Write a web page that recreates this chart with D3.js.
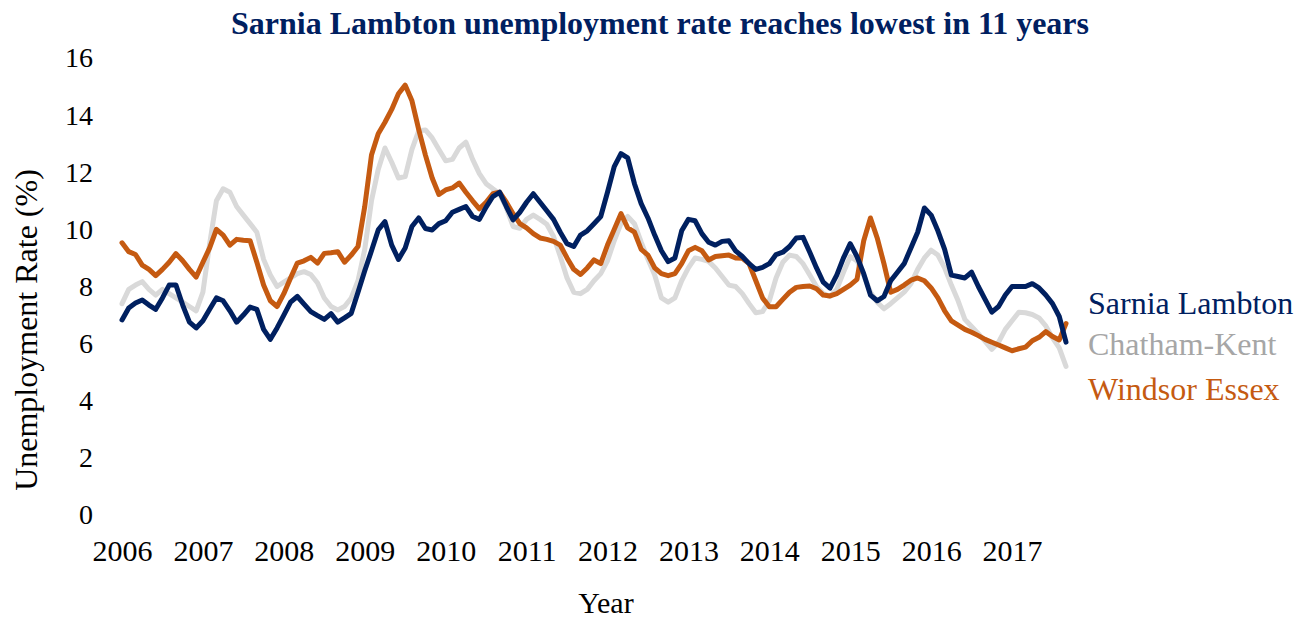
<!DOCTYPE html>
<html>
<head>
<meta charset="utf-8">
<script src="https://cdn.jsdelivr.net/npm/d3@7"></script>
<style>
  html, body { margin: 0; padding: 0; background: #ffffff; }
  svg { display: block; font-family: "Liberation Serif", "Times New Roman", serif; }
</style>
</head>
<body>
<svg id="chart" width="1304" height="620"></svg>
<script>
// ---- Data (monthly, Jan 2006 .. Sep 2017) ----
const startYear = 2006;
const yearLabels = ["2006","2007","2008","2009","2010","2011","2012","2013","2014","2015","2016","2017"];
const yTicks = [0, 2, 4, 6, 8, 10, 12, 14, 16];
const seriesNames = ["Sarnia Lambton", "Chatham-Kent", "Windsor Essex"];

const sarnia = [
  6.83,7.25,7.42,7.53,7.35,7.2,7.6,8.05,8.05,7.35,6.75,6.55,
  6.8,7.2,7.6,7.5,7.15,6.75,7.0,7.28,7.2,6.5,6.15,6.55,
  7.0,7.45,7.65,7.38,7.12,6.98,6.85,7.05,6.75,6.9,7.06,7.8,
  8.55,9.25,9.98,10.27,9.45,8.95,9.35,10.1,10.4,10.03,9.98,10.2,
  10.3,10.6,10.7,10.8,10.45,10.35,10.78,11.15,11.3,10.8,10.33,10.6,
  10.95,11.25,10.95,10.65,10.35,9.9,9.5,9.4,9.8,9.95,10.2,10.45,
  11.3,12.2,12.65,12.5,11.6,10.9,10.4,9.8,9.25,8.87,9.0,9.95,
  10.35,10.3,9.85,9.55,9.45,9.58,9.6,9.25,9.05,8.8,8.6,8.67,
  8.8,9.12,9.2,9.4,9.7,9.72,9.2,8.65,8.15,7.94,8.4,9.0,
  9.5,9.05,8.45,7.7,7.5,7.65,8.2,8.5,8.8,9.35,9.9,10.75,
  10.5,9.95,9.3,8.4,8.35,8.3,8.5,8.0,7.55,7.1,7.3,7.7,
  8.0,8.0,8.0,8.1,7.95,7.7,7.4,6.95,6.05
];
const chatham = [
  7.4,7.9,8.05,8.17,7.9,7.7,7.9,7.75,7.6,7.45,7.3,7.15,
  7.8,9.5,11.0,11.42,11.3,10.8,10.5,10.2,9.9,8.95,8.4,8.0,
  8.15,8.3,8.45,8.52,8.42,8.12,7.6,7.3,7.18,7.3,7.6,8.2,
  9.3,11.0,12.1,12.85,12.35,11.8,11.85,12.8,13.45,13.48,13.2,12.8,
  12.4,12.45,12.85,13.05,12.45,11.95,11.6,11.42,11.25,10.75,10.1,10.04,
  10.35,10.5,10.35,10.18,9.75,9.05,8.3,7.8,7.75,7.9,8.2,8.45,
  8.9,9.6,10.2,10.45,10.2,9.55,8.95,8.4,7.6,7.45,7.6,8.2,
  8.65,9.0,8.95,8.88,8.65,8.35,8.05,8.0,7.75,7.4,7.08,7.12,
  7.5,8.3,8.85,9.1,9.05,8.8,8.4,8.0,7.75,7.65,7.9,8.5,
  9.05,8.9,8.4,7.8,7.45,7.22,7.4,7.6,7.8,8.1,8.6,9.0,
  9.27,9.1,8.65,8.05,7.5,6.85,6.6,6.35,6.08,5.8,6.05,6.5,
  6.8,7.1,7.08,7.02,6.9,6.62,6.2,5.85,5.2
];
const windsor = [
  9.53,9.22,9.12,8.75,8.6,8.38,8.6,8.85,9.15,8.9,8.6,8.33,
  8.85,9.35,10.0,9.8,9.45,9.65,9.62,9.6,8.85,8.05,7.5,7.3,
  7.75,8.3,8.82,8.9,9.02,8.82,9.16,9.18,9.22,8.85,9.1,9.4,
  10.8,12.6,13.35,13.75,14.2,14.75,15.05,14.5,13.5,12.6,11.8,11.22,
  11.38,11.45,11.62,11.3,11.0,10.72,10.95,11.25,11.3,10.95,10.55,10.2,
  10.05,9.85,9.7,9.65,9.58,9.45,9.0,8.6,8.42,8.65,8.93,8.8,
  9.45,10.0,10.55,10.05,9.9,9.3,9.1,8.65,8.45,8.38,8.45,8.8,
  9.25,9.37,9.25,8.93,9.05,9.08,9.1,9.0,8.99,8.8,8.2,7.6,
  7.29,7.29,7.55,7.8,7.97,8.0,8.02,7.92,7.7,7.67,7.75,7.9,
  8.05,8.25,9.6,10.4,9.7,8.8,7.8,7.9,8.05,8.22,8.3,8.2,
  7.95,7.6,7.15,6.8,6.65,6.5,6.4,6.28,6.15,6.05,5.95,5.85,
  5.75,5.82,5.88,6.1,6.22,6.42,6.25,6.13,6.7
];
const seriesValues = [sarnia, chatham, windsor];
const seriesColors = ["#002060", "#D9D9D9", "#C55A11"];
const legendTextColors = ["#002060", "#A6A6A6", "#C55A11"];

// ---- Layout ----
const svg = d3.select("#chart");
const plot = { left: 122, right: 1066, top: 58, bottom: 515 };

const x = d3.scaleLinear().domain([0, sarnia.length - 1]).range([plot.left, plot.right]);
const y = d3.scaleLinear().domain([0, 16]).range([plot.bottom, plot.top]);

// Title
svg.append("text")
  .attr("x", 660).attr("y", 34)
  .attr("text-anchor", "middle")
  .attr("font-size", 32).attr("font-weight", "bold")
  .attr("fill", "#002060")
  .text("Sarnia Lambton unemployment rate reaches lowest in 11 years");

// Y axis
const yAxis = d3.axisLeft(y).tickValues(yTicks).tickSize(0).tickPadding(29).tickFormat(d3.format("d"));
const yg = svg.append("g").attr("transform", `translate(${plot.left},0)`).call(yAxis);
yg.select(".domain").remove();
yg.selectAll("text").attr("font-size", 28).attr("fill", "#000").attr("font-family", "Liberation Serif, serif");

// X axis
const xTickVals = yearLabels.map((d, i) => i * 12);
const xAxis = d3.axisBottom(x).tickValues(xTickVals).tickSize(0).tickPadding(25)
  .tickFormat((d, i) => yearLabels[i]);
const xg = svg.append("g").attr("transform", `translate(0,${plot.bottom})`).call(xAxis);
xg.select(".domain").remove();
xg.selectAll("text").attr("font-size", 30).attr("fill", "#000").attr("font-family", "Liberation Serif, serif");

// Axis titles
svg.append("text")
  .attr("transform", "translate(37,330) rotate(-90)")
  .attr("text-anchor", "middle")
  .attr("font-size", 32).attr("fill", "#000")
  .text("Unemployment Rate (%)");

svg.append("text")
  .attr("x", 606).attr("y", 613)
  .attr("text-anchor", "middle")
  .attr("font-size", 30).attr("fill", "#000")
  .text("Year");

// Lines (gray first, then orange, then navy on top)
const line = d3.line().x((d, i) => x(i)).y(d => y(d));
const drawOrder = [1, 2, 0];
drawOrder.forEach(k => {
  svg.append("path")
    .datum(seriesValues[k])
    .attr("fill", "none")
    .attr("stroke", seriesColors[k])
    .attr("stroke-width", 5)
    .attr("stroke-linejoin", "round")
    .attr("stroke-linecap", "round")
    .attr("d", line);
});

// Legend labels
const legendY = [314, 355, 400];
seriesNames.forEach((name, k) => {
  svg.append("text")
    .attr("x", 1088).attr("y", legendY[k])
    .attr("font-size", 32)
    .attr("fill", legendTextColors[k])
    .text(name);
});
</script>
</body>
</html>
